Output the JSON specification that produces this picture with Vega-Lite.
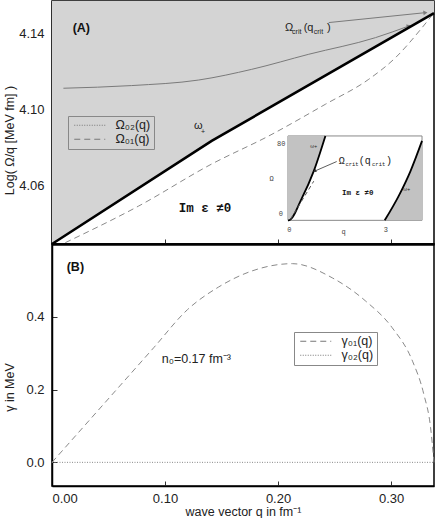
{
  "$schema": "https://vega.github.io/schema/vega-lite/v6.json",
  "padding": {"left": 2, "top": 0, "right": 1, "bottom": 0},
  "spacing": 0,
  "bounds": "flush",
  "background": "white",
  "config": {
    "font": "Liberation Sans",
    "view": {"stroke": "black", "strokeWidth": 1.5},
    "axis": {"labelFont": "Liberation Sans", "labelFontSize": 13, "labelColor": "#222", "titleFont": "Liberation Sans", "titleFontSize": 12.5, "titleFontWeight": "normal", "titleColor": "#222", "domainColor": "black", "domainWidth": 1.5, "tickColor": "#333", "tickSize": -5, "grid": false, "labelPadding": 13}
  },
  "datasets": {
    "thick": [{"q": 0, "y": 4.0296}, {"q": 0.1413, "y": 4.0836}, {"q": 0.338, "y": 4.1506}],
    "omega01": [
      {"q": 0.0118, "y": 4.0303, "s": "Ω₀₁(q)"}, {"q": 0.0767, "y": 4.0495, "s": "Ω₀₁(q)"}, {"q": 0.1413, "y": 4.0715, "s": "Ω₀₁(q)"},
      {"q": 0.1918, "y": 4.0862, "s": "Ω₀₁(q)"}, {"q": 0.2419, "y": 4.1028, "s": "Ω₀₁(q)"}, {"q": 0.2803, "y": 4.1159, "s": "Ω₀₁(q)"},
      {"q": 0.3039, "y": 4.1272, "s": "Ω₀₁(q)"}, {"q": 0.3274, "y": 4.1429, "s": "Ω₀₁(q)"}, {"q": 0.3378, "y": 4.1506, "s": "Ω₀₁(q)"}
    ],
    "grayc": [
      {"q": 0.0101, "y": 4.1112}, {"q": 0.0705, "y": 4.1126}, {"q": 0.1298, "y": 4.1155}, {"q": 0.1767, "y": 4.1211},
      {"q": 0.2272, "y": 4.129}, {"q": 0.2862, "y": 4.1377}, {"q": 0.3157, "y": 4.1438}
    ],
    "arrow1": [{"q": 0.2449, "y": 4.1456}, {"q": 0.3304, "y": 4.1508}],
    "head1": [{"q": 0.3304, "y": 4.1508}],
    "head2": [{"q": 0.3157, "y": 4.1438}],
    "critMain": [{"q": 0.2062, "y": 4.1414, "t": "Ω"}, {"q": 0.2227, "y": 4.1414, "t": "(q"}, {"q": 0.2434, "y": 4.1414, "t": ")"}],
    "critSub": [{"q": 0.2124, "y": 4.1396, "t": "crit"}, {"q": 0.2316, "y": 4.1396, "t": "crit"}],
    "labA": [{"q": 0.0183, "y": 4.1429, "t": "(A)"}],
    "omegaPlus": [{"q": 0.1256, "y": 4.0914, "t": "ω"}],
    "omegaPlusSub": [{"q": 0.1319, "y": 4.0884, "t": "+"}],
    "imA": [{"q": 0.1121, "y": 4.0486, "t": "Im ε ≠0"}],
    "insetBox": [{"q1": 0.2088, "q2": 0.3274, "y1": 4.042, "y2": 4.0862}],
    "insetLeft": [{"q": 0.2088, "y": 4.042}, {"q": 0.2095, "y": 4.042}, {"q": 0.2212, "y": 4.0538}, {"q": 0.2316, "y": 4.0678}, {"q": 0.2419, "y": 4.0862}],
    "insetRight": [{"q": 0.2944, "y": 4.042}, {"q": 0.3068, "y": 4.0548}, {"q": 0.3172, "y": 4.0678}, {"q": 0.3274, "y": 4.0836}],
    "insetDash": [{"q": 0.211, "y": 4.0425}, {"q": 0.2316, "y": 4.0625}],
    "insetArrow": [{"q": 0.2519, "y": 4.0728}, {"q": 0.2325, "y": 4.0678}],
    "insetHead": [{"q": 0.2325, "y": 4.0678}],
    "insetMain": [{"q": 0.2537, "y": 4.0713, "t": "Ω"}, {"q": 0.2714, "y": 4.0713, "t": "(q"}, {"q": 0.2955, "y": 4.0713, "t": ")"}],
    "insetSub": [{"q": 0.2596, "y": 4.0702, "t": "crit"}, {"q": 0.2832, "y": 4.0702, "t": "crit"}],
    "insetIm": [{"q": 0.2566, "y": 4.0565, "t": "Im ε ≠0"}],
    "insetTicks": [
      {"q": 0.2028, "y": 4.0821, "t": "80"}, {"q": 0.2024, "y": 4.0453, "t": "0"}, {"q": 0.1944, "y": 4.0636, "t": "Ω"},
      {"q": 0.2101, "y": 4.0369, "t": "0"}, {"q": 0.2581, "y": 4.0359, "t": "q"}, {"q": 0.2953, "y": 4.0369, "t": "3"}
    ],
    "insetOmega": [{"q": 0.2316, "y": 4.0809, "t": "ω+"}, {"q": 0.3139, "y": 4.0584, "t": "ω+"}],
    "gamma": [
      {"q": 0, "g": 0, "s": "γ₀₁(q)"}, {"q": 0.03, "g": 0.105, "s": "γ₀₁(q)"}, {"q": 0.06, "g": 0.21, "s": "γ₀₁(q)"},
      {"q": 0.09, "g": 0.315, "s": "γ₀₁(q)"}, {"q": 0.12, "g": 0.42, "s": "γ₀₁(q)"}, {"q": 0.1475, "g": 0.482, "s": "γ₀₁(q)"},
      {"q": 0.177, "g": 0.526, "s": "γ₀₁(q)"}, {"q": 0.2127, "g": 0.546, "s": "γ₀₁(q)"}, {"q": 0.248, "g": 0.507, "s": "γ₀₁(q)"},
      {"q": 0.2776, "g": 0.443, "s": "γ₀₁(q)"}, {"q": 0.301, "g": 0.37, "s": "γ₀₁(q)"}, {"q": 0.319, "g": 0.278, "s": "γ₀₁(q)"},
      {"q": 0.329, "g": 0.187, "s": "γ₀₁(q)"}, {"q": 0.335, "g": 0.095, "s": "γ₀₁(q)"}, {"q": 0.338, "g": 0.0, "s": "γ₀₁(q)"},
      {"q": 0, "g": 0, "s": "γ₀₂(q)"}, {"q": 0.338, "g": 0, "s": "γ₀₂(q)"}
    ],
    "labB": [{"q": 0.013, "g": 0.537, "t": "(B)"}],
    "n0": [{"q": 0.0971, "g": 0.283, "t": "n₀=0.17 fm⁻³"}]
  },
  "vconcat": [
    {
      "width": 382,
      "height": 243,
      "layer": [
        {
          "data": {"name": "thick"},
          "mark": {"type": "area", "color": "#d4d4d4"},
          "encoding": {
            "x": {"field": "q", "type": "quantitative", "scale": {"domain": [0, 0.338], "nice": false, "zero": false},
                  "axis": {"values": [0, 0.1, 0.2, 0.3], "labels": false, "title": null, "domainWidth": 2.5, "labelPadding": 0}},
            "y": {"field": "y", "type": "quantitative", "scale": {"domain": [4.0296, 4.1569], "nice": false, "zero": false},
                  "axis": {"values": [4.06, 4.1, 4.14], "format": ".2f", "title": "Log( Ω/q  [MeV fm] )", "titleX": -43, "titleY": 139, "titleBaseline": "middle"}},
            "y2": {"datum": 4.1569}
          }
        },
        {
          "data": {"name": "grayc"},
          "mark": {"type": "line", "color": "#7a7a7a", "strokeWidth": 1, "interpolate": "monotone"},
          "encoding": {"x": {"field": "q", "type": "quantitative"}, "y": {"field": "y", "type": "quantitative"}}
        },
        {
          "data": {"name": "arrow1"},
          "mark": {"type": "line", "color": "#7a7a7a", "strokeWidth": 1},
          "encoding": {"x": {"field": "q", "type": "quantitative"}, "y": {"field": "y", "type": "quantitative"}}
        },
        {
          "data": {"name": "head1"},
          "mark": {"type": "point", "shape": "triangle-right", "filled": true, "color": "#7a7a7a", "size": 22, "angle": 354, "opacity": 1},
          "encoding": {"x": {"field": "q", "type": "quantitative"}, "y": {"field": "y", "type": "quantitative"}}
        },
        {
          "data": {"name": "head2"},
          "mark": {"type": "point", "shape": "triangle-right", "filled": true, "color": "#7a7a7a", "size": 22, "angle": 340, "opacity": 1},
          "encoding": {"x": {"field": "q", "type": "quantitative"}, "y": {"field": "y", "type": "quantitative"}}
        },
        {
          "data": {"name": "omega01"},
          "mark": {"type": "line", "color": "#8a8a8a", "strokeWidth": 1, "interpolate": "monotone"},
          "encoding": {
            "x": {"field": "q", "type": "quantitative"},
            "y": {"field": "y", "type": "quantitative"},
            "strokeDash": {"field": "s", "type": "nominal",
              "scale": {"domain": ["Ω₀₂(q)", "Ω₀₁(q)"], "range": [[1, 1.5], [6, 4]]},
              "legend": {"orient": "none", "legendX": 16, "legendY": 115, "title": null, "fillColor": "#d4d4d4", "strokeColor": "#888", "padding": 3, "rowPadding": 1,
                         "symbolType": "M-1,0H9.33", "symbolSize": 36, "symbolStrokeColor": "#777", "symbolStrokeWidth": 1, "labelFontSize": 12.5, "labelFont": "Liberation Sans", "labelColor": "#222", "labelOffset": 32}}
          }
        },
        {
          "data": {"name": "thick"},
          "mark": {"type": "line", "color": "black", "strokeWidth": 2.6},
          "encoding": {"x": {"field": "q", "type": "quantitative"}, "y": {"field": "y", "type": "quantitative"}}
        },
        {
          "data": {"name": "critMain"},
          "mark": {"type": "text", "align": "left", "baseline": "alphabetic", "fontSize": 11, "color": "#222"},
          "encoding": {"x": {"field": "q", "type": "quantitative"}, "y": {"field": "y", "type": "quantitative"}, "text": {"field": "t"}}
        },
        {
          "data": {"name": "critSub"},
          "mark": {"type": "text", "align": "left", "baseline": "alphabetic", "fontSize": 7, "color": "#222"},
          "encoding": {"x": {"field": "q", "type": "quantitative"}, "y": {"field": "y", "type": "quantitative"}, "text": {"field": "t"}}
        },
        {
          "data": {"name": "labA"},
          "mark": {"type": "text", "align": "left", "baseline": "middle", "fontSize": 12.5, "fontWeight": "bold", "color": "#111"},
          "encoding": {"x": {"field": "q", "type": "quantitative"}, "y": {"field": "y", "type": "quantitative"}, "text": {"field": "t"}}
        },
        {
          "data": {"name": "omegaPlus"},
          "mark": {"type": "text", "align": "left", "baseline": "middle", "fontSize": 11, "color": "#222"},
          "encoding": {"x": {"field": "q", "type": "quantitative"}, "y": {"field": "y", "type": "quantitative"}, "text": {"field": "t"}}
        },
        {
          "data": {"name": "omegaPlusSub"},
          "mark": {"type": "text", "align": "left", "baseline": "middle", "fontSize": 7, "color": "#222"},
          "encoding": {"x": {"field": "q", "type": "quantitative"}, "y": {"field": "y", "type": "quantitative"}, "text": {"field": "t"}}
        },
        {
          "data": {"name": "imA"},
          "mark": {"type": "text", "align": "left", "baseline": "middle", "fontSize": 12.5, "fontWeight": "bold", "font": "Liberation Mono", "color": "#111"},
          "encoding": {"x": {"field": "q", "type": "quantitative"}, "y": {"field": "y", "type": "quantitative"}, "text": {"field": "t"}}
        },
        {
          "data": {"name": "insetBox"},
          "mark": {"type": "rect", "fill": "white", "stroke": "#888", "strokeWidth": 1},
          "encoding": {"x": {"field": "q1", "type": "quantitative"}, "x2": {"field": "q2"}, "y": {"field": "y1", "type": "quantitative"}, "y2": {"field": "y2"}}
        },
        {
          "data": {"name": "insetLeft"},
          "mark": {"type": "area", "color": "#c2c2c2", "interpolate": "monotone"},
          "encoding": {"x": {"field": "q", "type": "quantitative"}, "y": {"field": "y", "type": "quantitative"}, "y2": {"datum": 4.0862}}
        },
        {
          "data": {"name": "insetRight"},
          "mark": {"type": "area", "color": "#c2c2c2", "interpolate": "monotone"},
          "encoding": {"x": {"field": "q", "type": "quantitative"}, "y": {"field": "y", "type": "quantitative"}, "y2": {"datum": 4.042}}
        },
        {
          "data": {"name": "insetLeft"},
          "mark": {"type": "line", "color": "black", "strokeWidth": 1.8, "interpolate": "monotone"},
          "encoding": {"x": {"field": "q", "type": "quantitative"}, "y": {"field": "y", "type": "quantitative"}}
        },
        {
          "data": {"name": "insetRight"},
          "mark": {"type": "line", "color": "black", "strokeWidth": 1.8, "interpolate": "monotone"},
          "encoding": {"x": {"field": "q", "type": "quantitative"}, "y": {"field": "y", "type": "quantitative"}}
        },
        {
          "data": {"name": "insetDash"},
          "mark": {"type": "line", "color": "#555", "strokeWidth": 1, "strokeDash": [4, 3]},
          "encoding": {"x": {"field": "q", "type": "quantitative"}, "y": {"field": "y", "type": "quantitative"}}
        },
        {
          "data": {"name": "insetArrow"},
          "mark": {"type": "line", "color": "#333", "strokeWidth": 0.8},
          "encoding": {"x": {"field": "q", "type": "quantitative"}, "y": {"field": "y", "type": "quantitative"}}
        },
        {
          "data": {"name": "insetHead"},
          "mark": {"type": "point", "shape": "triangle-right", "filled": true, "color": "#333", "size": 12, "angle": 157, "opacity": 1},
          "encoding": {"x": {"field": "q", "type": "quantitative"}, "y": {"field": "y", "type": "quantitative"}}
        },
        {
          "data": {"name": "insetMain"},
          "mark": {"type": "text", "align": "left", "baseline": "alphabetic", "fontSize": 10, "font": "Liberation Mono", "color": "#222"},
          "encoding": {"x": {"field": "q", "type": "quantitative"}, "y": {"field": "y", "type": "quantitative"}, "text": {"field": "t"}}
        },
        {
          "data": {"name": "insetSub"},
          "mark": {"type": "text", "align": "left", "baseline": "alphabetic", "fontSize": 5.5, "font": "Liberation Mono", "color": "#222"},
          "encoding": {"x": {"field": "q", "type": "quantitative"}, "y": {"field": "y", "type": "quantitative"}, "text": {"field": "t"}}
        },
        {
          "data": {"name": "insetIm"},
          "mark": {"type": "text", "align": "left", "baseline": "middle", "fontSize": 7.5, "fontWeight": "bold", "font": "Liberation Mono", "color": "#111"},
          "encoding": {"x": {"field": "q", "type": "quantitative"}, "y": {"field": "y", "type": "quantitative"}, "text": {"field": "t"}}
        },
        {
          "data": {"name": "insetTicks"},
          "mark": {"type": "text", "align": "center", "baseline": "middle", "fontSize": 7, "font": "Liberation Mono", "color": "#444"},
          "encoding": {"x": {"field": "q", "type": "quantitative"}, "y": {"field": "y", "type": "quantitative"}, "text": {"field": "t"}}
        },
        {
          "data": {"name": "insetOmega"},
          "mark": {"type": "text", "align": "center", "baseline": "middle", "fontSize": 5, "color": "#222"},
          "encoding": {"x": {"field": "q", "type": "quantitative"}, "y": {"field": "y", "type": "quantitative"}, "text": {"field": "t"}}
        }
      ]
    },
    {
      "width": 382,
      "height": 242,
      "layer": [
        {
          "data": {"name": "gamma"},
          "mark": {"type": "line", "color": "#8a8a8a", "strokeWidth": 1, "interpolate": "monotone"},
          "encoding": {
            "x": {"field": "q", "type": "quantitative", "scale": {"domain": [0, 0.338], "nice": false, "zero": false},
                  "axis": {"values": [0, 0.1, 0.2, 0.3], "format": ".2f", "title": "wave vector q in fm⁻¹", "labelPadding": 11.5, "titlePadding": 0}},
            "y": {"field": "g", "type": "quantitative", "scale": {"domain": [-0.065, 0.6], "nice": false, "zero": false},
                  "axis": {"values": [0, 0.2, 0.4], "format": ".1f", "title": "γ in MeV", "titleX": -43, "titleY": 143, "titleBaseline": "middle"}},
            "strokeDash": {"field": "s", "type": "nominal",
              "scale": {"domain": ["γ₀₁(q)", "γ₀₂(q)"], "range": [[6, 4], [1, 1.5]]},
              "legend": {"orient": "none", "legendX": 242, "legendY": 88, "title": null, "fillColor": "white", "strokeColor": "#888", "padding": 3, "rowPadding": 1,
                         "symbolType": "M-1,0H9.33", "symbolSize": 36, "symbolStrokeColor": "#777", "symbolStrokeWidth": 1, "labelFontSize": 12.5, "labelFont": "Liberation Sans", "labelColor": "#222", "labelOffset": 32}}
          }
        },
        {
          "data": {"name": "labB"},
          "mark": {"type": "text", "align": "left", "baseline": "middle", "fontSize": 12.5, "fontWeight": "bold", "color": "#111"},
          "encoding": {"x": {"field": "q", "type": "quantitative"}, "y": {"field": "g", "type": "quantitative"}, "text": {"field": "t"}}
        },
        {
          "data": {"name": "n0"},
          "mark": {"type": "text", "align": "left", "baseline": "middle", "fontSize": 12.5, "color": "#222"},
          "encoding": {"x": {"field": "q", "type": "quantitative"}, "y": {"field": "g", "type": "quantitative"}, "text": {"field": "t"}}
        }
      ]
    }
  ],
  "resolve": {"scale": {"strokeDash": "independent", "x": "independent", "y": "independent"}, "legend": {"strokeDash": "independent"}}
}
